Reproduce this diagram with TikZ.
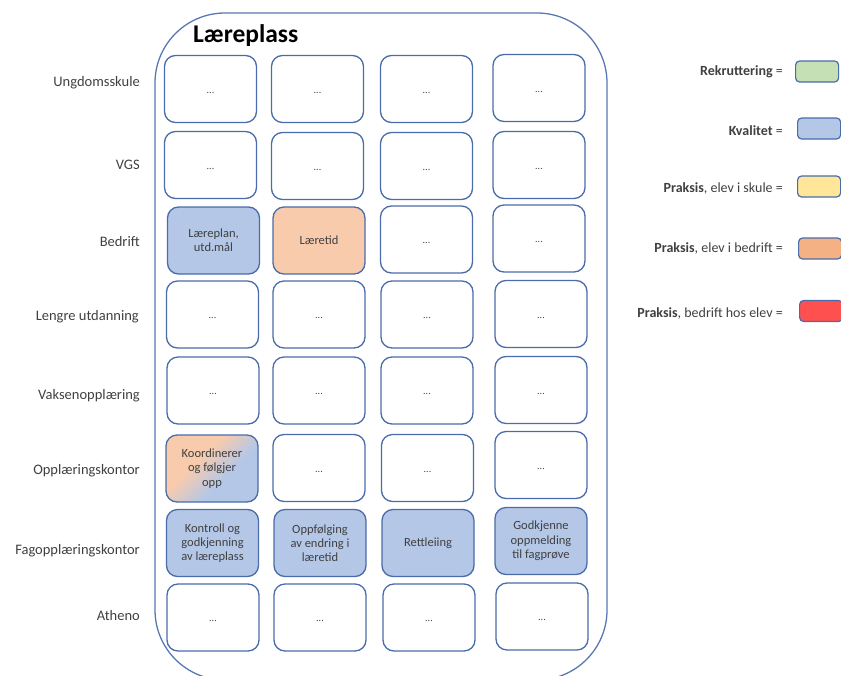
\documentclass[tikz,border=0pt]{standalone}
\usepackage{fontspec}
\setmainfont{Carlito}
\definecolor{bordercol}{RGB}{74,108,170}
\definecolor{outercol}{RGB}{88,120,178}
\definecolor{kvalfill}{RGB}{180,199,231}
\definecolor{oranfill}{RGB}{248,203,173}
\definecolor{greenfill}{RGB}{197,224,180}
\definecolor{yellowfill}{RGB}{255,230,153}
\definecolor{orangeleg}{RGB}{244,177,131}
\definecolor{redfill}{RGB}{255,80,80}
\definecolor{textgray}{RGB}{64,64,64}
\pgfdeclarehorizontalshading{koord}{100bp}{color(0bp)=(oranfill); color(40bp)=(oranfill); color(60bp)=(kvalfill); color(100bp)=(kvalfill)}
\tikzset{
  cell/.style={draw=bordercol, line width=1.3pt, rounded corners=11pt,
    minimum width=92pt, minimum height=67pt, align=center, inner sep=2pt,
    text=textgray, font=\fontsize{12.5}{14.3}\selectfont, fill=white},
  emptycell/.style={cell, font=\fontsize{10}{12}\selectfont, text height=8pt, text depth=0pt},
  kval/.style={cell, fill=kvalfill},
  laer/.style={cell, fill=oranfill},
  rowlabel/.style={anchor=east, text=textgray, inner sep=0pt, font=\fontsize{14.5}{16}\selectfont},
  legtext/.style={anchor=base east, text=textgray, inner sep=0pt, font=\fontsize{14}{16}\selectfont},
  legbox/.style={draw=bordercol, line width=1.2pt, rounded corners=4pt,
    minimum width=43pt, minimum height=21pt, inner sep=0pt},
}
\begin{document}
\begin{tikzpicture}[x=1pt,y=-1pt]
\useasboundingbox (0,0) rectangle (841,675);
\clip (0,0) rectangle (841,675);
\draw[outercol, line width=1.3pt, rounded corners=70pt] (155,13) rectangle (607,680);
\node[anchor=base west, inner sep=0pt, font=\fontsize{25.5}{28}\selectfont\bfseries] (title) at (193,42) {Læreplass};
% row labels
\node[rowlabel] (l1) at (140,83) {Ungdomsskule};
\node[rowlabel] (l2) at (140,165) {VGS};
\node[rowlabel] (l3) at (140,242) {Bedrift};
\node[rowlabel] (l4) at (139,317) {Lengre utdanning};
\node[rowlabel] (l5) at (140,396) {Vaksenopplæring};
\node[rowlabel] (l6) at (140,471) {Opplæringskontor};
\node[rowlabel] (l7) at (140,551) {Fagopplæringskontor};
\node[rowlabel] (l8) at (140,616) {Atheno};
% row 1
\node[emptycell] (c11) at (210.5,89) {...};
\node[emptycell] (c12) at (317.5,89) {...};
\node[emptycell] (c13) at (426.5,89) {...};
\node[emptycell] (c14) at (539,88) {...};
% row 2
\node[emptycell] (c21) at (210.5,165) {...};
\node[emptycell] (c22) at (317.5,166) {...};
\node[emptycell] (c23) at (426.5,166) {...};
\node[emptycell] (c24) at (539,165) {...};
% row 3
\node[kval] (c31) at (213.5,240.5) {Læreplan,\\utd.mål};
\node[laer] (c32) at (319,240.5) {Læretid};
\node[emptycell] (c33) at (426.5,239.5) {...};
\node[emptycell] (c34) at (539,238.5) {...};
% row 4
\node[emptycell] (c41) at (212.5,314.5) {...};
\node[emptycell] (c42) at (319,314.5) {...};
\node[emptycell] (c43) at (427,314.5) {...};
\node[emptycell] (c44) at (541,314) {...};
% row 5
\node[emptycell] (c51) at (213,390.5) {...};
\node[emptycell] (c52) at (319,390.5) {...};
\node[emptycell] (c53) at (427,390.5) {...};
\node[emptycell] (c54) at (541,390) {...};
% row 6
\node[cell, shade, shading=koord, shading angle=-45] (c61) at (212,468.5) {Koordinerer\\og følgjer\\opp};
\node[emptycell] (c62) at (319,468) {...};
\node[emptycell] (c63) at (427.5,468) {...};
\node[emptycell] (c64) at (541,465) {...};
% row 7
\node[kval] (c71) at (212.5,543) {Kontroll og\\godkjenning\\av læreplass};
\node[kval] (c72) at (320,543) {Oppfølging\\av endring i\\læretid};
\node[kval] (c73) at (428,543) {Rettleiing};
\node[kval] (c74) at (541,541) {Godkjenne\\oppmelding\\til fagprøve};
% row 8
\node[emptycell] (c81) at (213,617.5) {...};
\node[emptycell] (c82) at (320,617.5) {...};
\node[emptycell] (c83) at (429,617.5) {...};
\node[emptycell] (c84) at (542,616.5) {...};
% legend
\node[legtext] (t1) at (783,75) {\textbf{Rekruttering} =};
\node[legtext] (t2) at (783,135) {\textbf{Kvalitet} =};
\node[legtext] (t3) at (783,192) {\textbf{Praksis}, elev i skule =};
\node[legtext] (t4) at (783,252) {\textbf{Praksis}, elev i bedrift =};
\node[legtext] (t5) at (783,317) {\textbf{Praksis}, bedrift hos elev =};
\node[legbox, fill=greenfill, anchor=west] (b1) at (795,71.5) {};
\node[legbox, fill=kvalfill, anchor=west] (b2) at (797,128.5) {};
\node[legbox, fill=yellowfill, anchor=west] (b3) at (797,186.5) {};
\node[legbox, fill=orangeleg, anchor=west] (b4) at (798,248.5) {};
\node[legbox, fill=redfill, anchor=west] (b5) at (799,311) {};
\end{tikzpicture}
\end{document}
